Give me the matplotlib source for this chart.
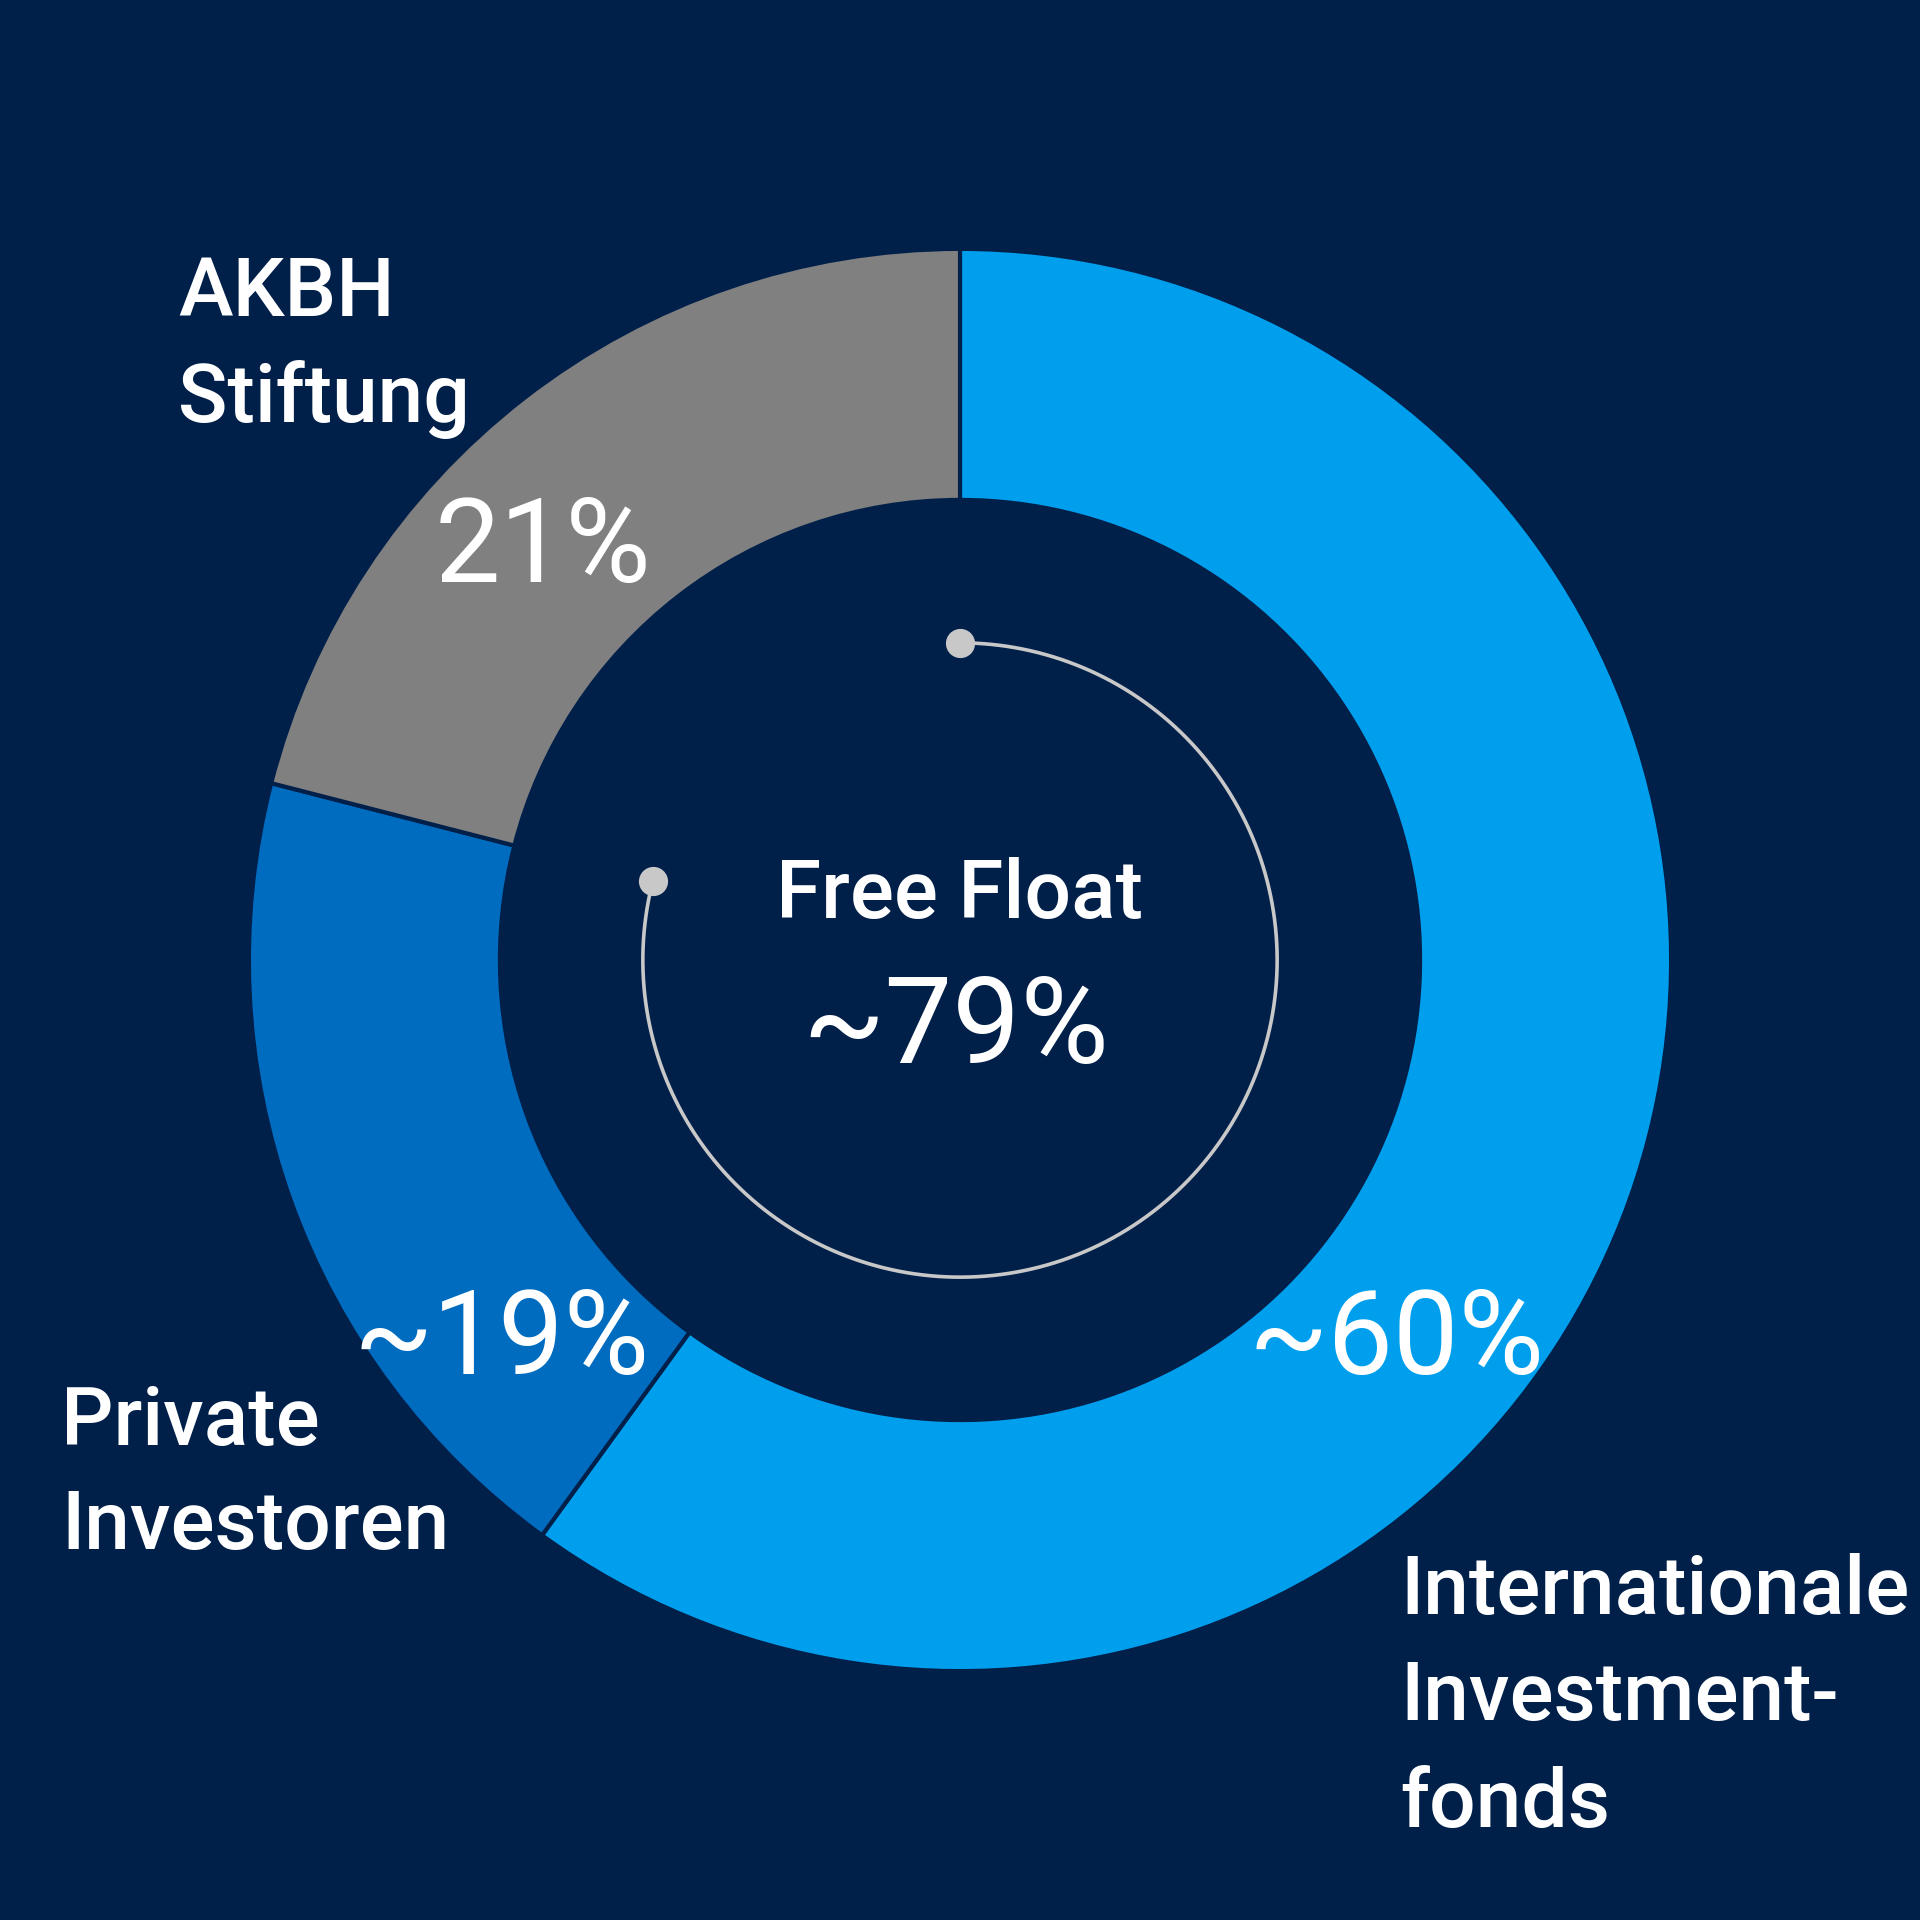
import matplotlib.pyplot as plt
import numpy as np

# shareholder structure
segments = ['Internationale Investmentfonds', 'Private Investoren', 'AKBH Stiftung']
shares = [60, 19, 21]
share_texts = ['~60%', '~19%', '21%']
free_float = shares[0] + shares[1]
free_float_text = '~79%'

BG = '#00204A'
COLORS = ['#009FEE', '#006CC0', '#808080']
ARC_COLOR = '#C8C8C8'
TEXT_COLOR = 'white'
W = 1920.0

plt.rcParams['font.family'] = ['Roboto', 'DejaVu Sans']

fig = plt.figure(figsize=(19.2, 19.2), dpi=100, facecolor=BG)
ax = fig.add_axes([0, 0, 1, 1])
ax.set_facecolor(BG)

ax.pie(shares, colors=COLORS, startangle=90, counterclock=False, radius=1.0,
       wedgeprops=dict(width=0.353, edgecolor=BG, linewidth=3))

# free float arc, clockwise from the top
r_arc = 0.446
theta = np.radians(90 - np.linspace(0, free_float / 100 * 360, 400))
ax.plot(r_arc * np.cos(theta), r_arc * np.sin(theta), color=ARC_COLOR, lw=2.6,
        solid_capstyle='round')
ax.plot([r_arc * np.cos(theta[0]), r_arc * np.cos(theta[-1])],
        [r_arc * np.sin(theta[0]), r_arc * np.sin(theta[-1])],
        'o', color=ARC_COLOR, markersize=21, markeredgewidth=0)

# pie() resets the limits, so set them afterwards
ax.set_xlim(-1.35, 1.35)
ax.set_ylim(-1.35, 1.35)
ax.set_aspect('equal')
ax.axis('off')


def put(px, py, s, size, ha='left', weight='medium'):
    fig.text(px / W, 1 - py / W, s, color=TEXT_COLOR, fontsize=size,
             ha=ha, va='baseline', fontweight=weight)


# labels outside the ring
put(178, 316, 'AKBH', 59)
put(178, 422, 'Stiftung', 59)
put(61, 1445, 'Private', 59)
put(61, 1549, 'Investoren', 59)
put(1400, 1614, 'Internationale', 59)
put(1400, 1720, 'Investment-', 59)
put(1400, 1827, 'fonds', 59)

# percentages on the ring
put(435, 582, share_texts[2], 84, weight='normal')
put(502, 1374, share_texts[1], 84, ha='center', weight='normal')
put(1397, 1374, share_texts[0], 84, ha='center', weight='normal')

# center
put(959, 918, 'Free Float', 59, ha='center')
put(956, 1063, free_float_text, 87, ha='center', weight='normal')

fig.savefig('out.png', dpi=100, facecolor=BG)
